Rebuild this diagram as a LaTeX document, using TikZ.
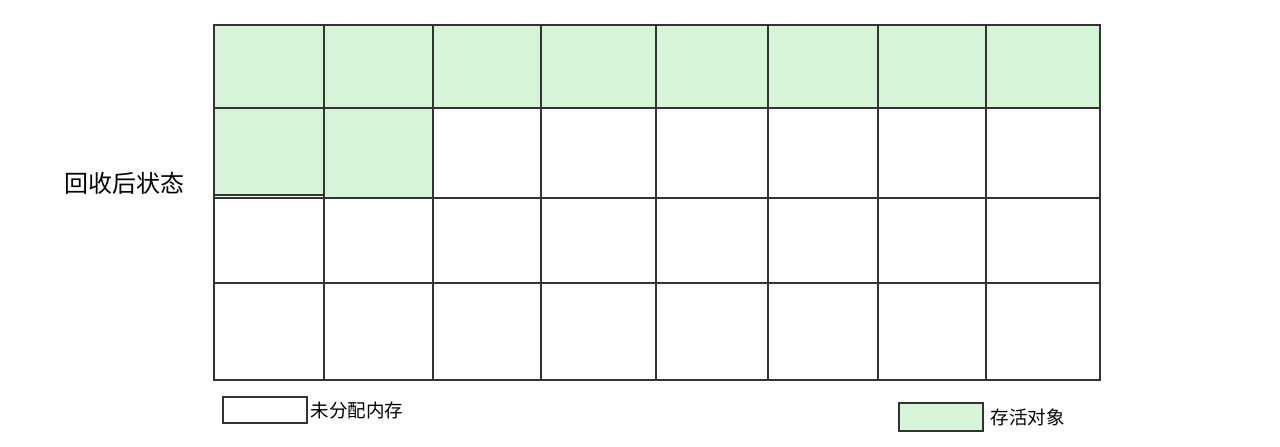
\documentclass[tikz,border=0pt]{standalone}
\usepackage{fontspec}
\newfontfamily\cjk{Noto Sans CJK SC}
\usetikzlibrary{positioning}
\definecolor{livegreen}{RGB}{214,244,216}

\begin{document}
\begin{tikzpicture}[x=1pt,y=-1pt]
  \tikzset{cell/.style={draw=black!80,line width=1.2pt},
           live cell/.style={cell,fill=livegreen},
           heap text/.style={font=\cjk\fontsize{18.5}{18.5}\selectfont,inner sep=0pt}}
  \useasboundingbox (0,0) rectangle (1280,447);

  % heap blocks
  \foreach \xa/\xb in {214/324,324/433,433/541,541/656,656/768,768/878,878/986,986/1100}
    \foreach \ya/\yb in {25/108,108/198,198/283,283/380}
      \draw[cell] (\xa,\ya) rectangle (\xb,\yb);
  \foreach \xa/\xb in {214/324,324/433,433/541,541/656,656/768,768/878,878/986,986/1100}
    \draw[live cell] (\xa,25) rectangle (\xb,108);
  \draw[live cell] (214,108) rectangle (324,195);
  \draw[live cell] (324,108) rectangle (433,198);

  \node[heap text,font=\cjk\fontsize{24}{24}\selectfont] (state) at (124,183) {回收后状态};

  % legend
  \node[cell,minimum width=84,minimum height=26] (freebox) at (265,410) {};
  \node[heap text,right=3pt of freebox] (free) {未分配内存};
  \node[live cell,minimum width=84,minimum height=28] (livebox) at (941,417) {};
  \node[heap text,right=7pt of livebox] (live) {存活对象};
\end{tikzpicture}
\end{document}
